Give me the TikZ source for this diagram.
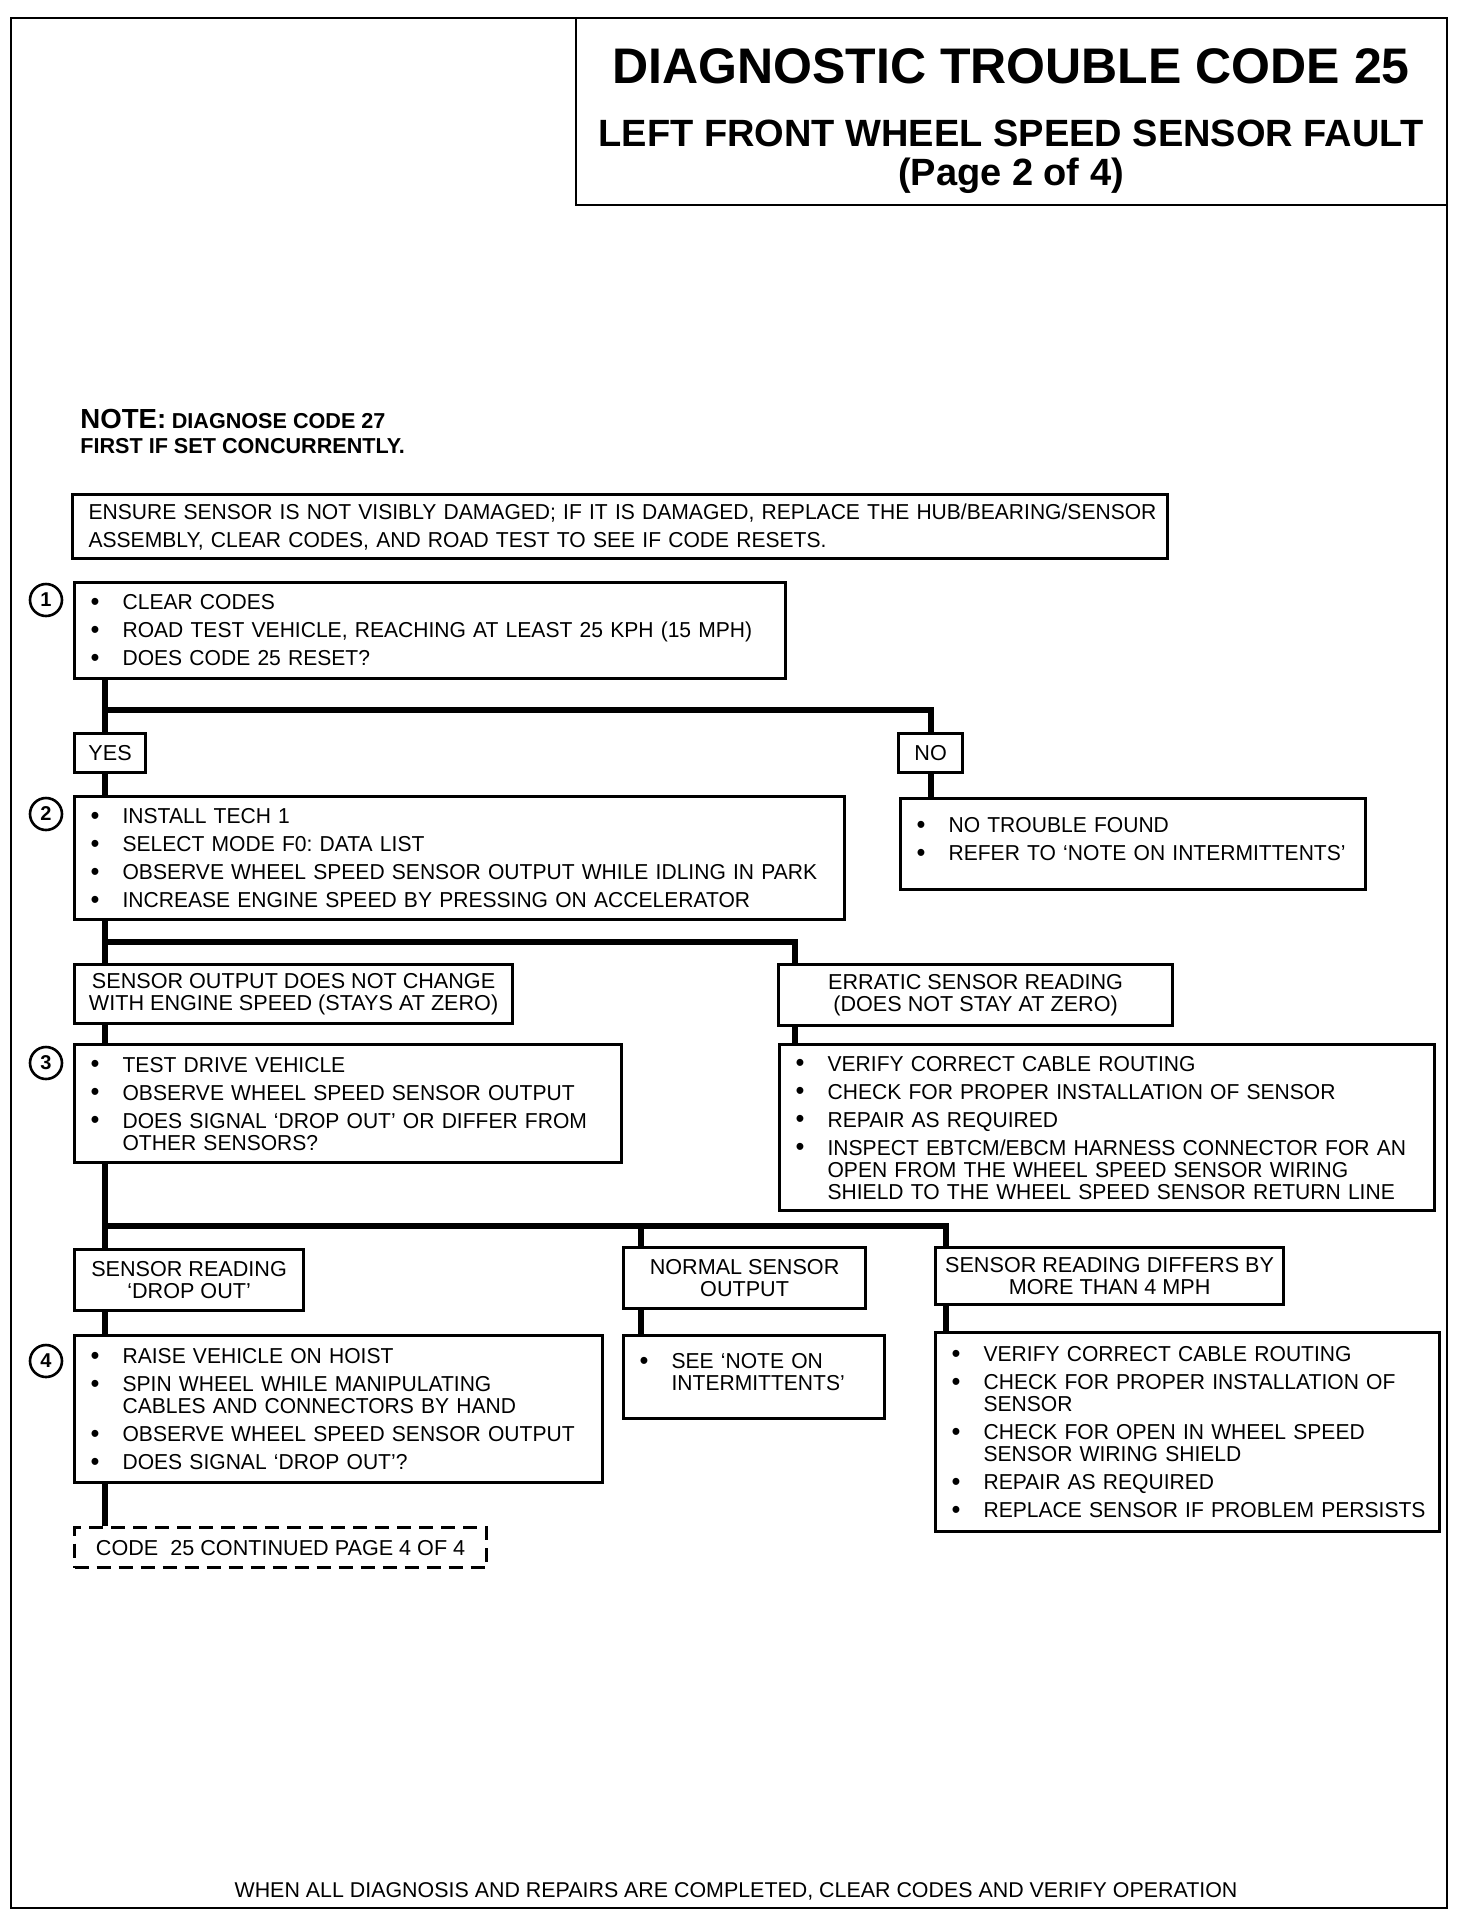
\documentclass[tikz,border=0pt]{standalone}
\usepackage{fontspec}
\setmainfont{Liberation Sans}
\newfontfamily\stepfont{Liberation Sans}[Ligatures=TeX,FakeStretch=0.975]
\usetikzlibrary{positioning}
\frenchspacing
\newcommand{\blt}{\makebox[17pt][l]{\hspace{1pt}\raisebox{-0.4pt}{\fontsize{13}{13}\selectfont\textbullet}}}
\newcommand{\fitm}[1]{\blt\mbox{#1}}
\newcommand{\itm}[1]{\par\addvspace{3pt}\noindent\blt\mbox{#1}}
\newcommand{\nxt}[1]{\par\noindent\hspace*{17pt}\mbox{#1}}
\newcommand{\lift}[1]{\par\kern#1}
\begin{document}
\begin{tikzpicture}[x=0.5pt,y=-0.5pt,
  frame/.style={line width=1.3pt},
  box/.style={draw,line width=1.6pt,anchor=north west,inner sep=0pt,align=center,font=\fontsize{10.8}{11}\selectfont},
  stepbox/.style={draw,line width=1.6pt,anchor=north west,inner xsep=7pt,inner ysep=0pt,font=\stepfont\fontsize{10.8}{11}\selectfont},
  num/.style={circle,draw,line width=1.3pt,minimum size=16pt,inner sep=0pt,font=\fontsize{10}{10}\selectfont\bfseries},
  conn/.style={line width=3pt}]
\useasboundingbox (0,0) rectangle (1472,1918);
% page frame and title block
\draw[frame] (11,18) rectangle (1447,1908);
\draw[frame] (576,18) -- (576,205) -- (1447,205);
\node[anchor=base,inner sep=0pt,font=\fontsize{25}{25}\selectfont\bfseries] (ttl1) at (1011,83) {DIAGNOSTIC TROUBLE CODE 25};
\node[anchor=base,inner sep=0pt,font=\fontsize{19}{19}\selectfont\bfseries] (ttl2) at (1011,146) {LEFT FRONT WHEEL SPEED SENSOR FAULT};
\node[anchor=base,inner sep=0pt,font=\fontsize{19}{19}\selectfont\bfseries] (ttl3) at (1011,185) {(Page 2 of 4)};
\node[anchor=base west,inner sep=0pt,font=\bfseries] (note1) at (80,428) {{\fontsize{13.8}{14}\selectfont NOTE:} {\fontsize{10.8}{11}\selectfont DIAGNOSE CODE 27}};
\node[anchor=base west,inner sep=0pt,font=\fontsize{10.8}{11}\selectfont\bfseries] (note2) at (80,453) {FIRST IF SET CONCURRENTLY.};

\node[stepbox,inner xsep=8pt,minimum width=547.5pt,minimum height=32pt,text width=531.5pt,font=\stepfont\fontsize{10.8}{14}\selectfont] (ensure) at (71,493)
  {\noindent\mbox{ENSURE SENSOR IS NOT VISIBLY DAMAGED; IF IT IS DAMAGED, REPLACE THE HUB/BEARING/SENSOR}\par
   \noindent\mbox{ASSEMBLY, CLEAR CODES, AND ROAD TEST TO SEE IF CODE RESETS.}};

% step 1
\node[num] (c1) at (46,600) {1};
\node[stepbox,minimum width=355.5pt,minimum height=48pt,text width=341.5pt] (s1) at (73,581)
  {\fitm{CLEAR CODES}\itm{ROAD TEST VEHICLE, REACHING AT LEAST 25 KPH (15 MPH)}\itm{DOES CODE 25 RESET?}};
\node[box,minimum width=35.5pt,minimum height=19.5pt] (yes) at (73,732) {YES};
\node[box,minimum width=32pt,minimum height=19.5pt] (no) at (897,732) {NO};

% step 2
\node[num] (c2) at (46,814) {2};
\node[stepbox,minimum width=385pt,minimum height=61.5pt,text width=371pt] (s2) at (73,795)
  {\fitm{INSTALL TECH 1}\itm{SELECT MODE F0: DATA LIST}\itm{OBSERVE WHEEL SPEED SENSOR OUTPUT WHILE IDLING IN PARK}\itm{INCREASE ENGINE SPEED BY PRESSING ON ACCELERATOR}};
\node[stepbox,minimum width=232.5pt,minimum height=45.5pt,text width=218.5pt] (ntf) at (899,797)
  {\fitm{NO TROUBLE FOUND}\itm{REFER TO `NOTE ON INTERMITTENTS'}\lift{5pt}};
\node[box,minimum width=219pt,minimum height=29.5pt] (nochg) at (73,963) {SENSOR OUTPUT DOES NOT CHANGE\\WITH ENGINE SPEED (STAYS AT ZERO)};
\node[box,minimum width=197pt,minimum height=30.5pt] (errat) at (777,963) {ERRATIC SENSOR READING\\(DOES NOT STAY AT ZERO)};

% step 3
\node[num] (c3) at (46,1063) {3};
\node[stepbox,minimum width=273.5pt,minimum height=59pt,text width=259.5pt] (s3) at (73,1043)
  {\fitm{TEST DRIVE VEHICLE}\itm{OBSERVE WHEEL SPEED SENSOR OUTPUT}\itm{DOES SIGNAL `DROP OUT' OR DIFFER FROM}\nxt{OTHER SENSORS?}};
\node[stepbox,minimum width=327.5pt,minimum height=83pt,text width=313.5pt] (fixerr) at (778,1043)
  {\fitm{VERIFY CORRECT CABLE ROUTING}\itm{CHECK FOR PROPER INSTALLATION OF SENSOR}\itm{REPAIR AS REQUIRED}\itm{INSPECT EBTCM/EBCM HARNESS CONNECTOR FOR AN}\nxt{OPEN FROM THE WHEEL SPEED SENSOR WIRING}\nxt{SHIELD TO THE WHEEL SPEED SENSOR RETURN LINE}};
\node[box,minimum width=114.5pt,minimum height=30.5pt] (dropout) at (73,1248) {SENSOR READING\\`DROP OUT'};
\node[box,minimum width=121pt,minimum height=30.5pt] (normal) at (622,1246) {NORMAL SENSOR\\OUTPUT};
\node[box,minimum width=174pt,minimum height=28.5pt] (differs) at (934,1246) {SENSOR READING DIFFERS BY\\MORE THAN 4 MPH};

% step 4
\node[num] (c4) at (46,1361) {4};
\node[stepbox,minimum width=264pt,minimum height=73.5pt,text width=250pt] (s4) at (73,1334)
  {\fitm{RAISE VEHICLE ON HOIST}\itm{SPIN WHEEL WHILE MANIPULATING}\nxt{CABLES AND CONNECTORS BY HAND}\itm{OBSERVE WHEEL SPEED SENSOR OUTPUT}\itm{DOES SIGNAL `DROP OUT'?}};
\node[stepbox,minimum width=130.5pt,minimum height=41.5pt,text width=116.5pt] (seenote) at (622,1334)
  {\fitm{SEE `NOTE ON}\nxt{INTERMITTENTS'}\lift{5pt}};
\node[stepbox,minimum width=252pt,minimum height=99.5pt,text width=238pt] (fixdiff) at (934,1331)
  {\fitm{VERIFY CORRECT CABLE ROUTING}\itm{CHECK FOR PROPER INSTALLATION OF}\nxt{SENSOR}\itm{CHECK FOR OPEN IN WHEEL SPEED}\nxt{SENSOR WIRING SHIELD}\itm{REPAIR AS REQUIRED}\itm{REPLACE SENSOR IF PROBLEM PERSISTS}};
\node[box,dashed,dash pattern=on 7pt off 4pt,minimum width=206pt,minimum height=20pt] (cont) at (73,1526) {CODE\ \ 25 CONTINUED PAGE 4 OF 4};

\node[anchor=base,inner sep=0pt,font=\fontsize{10.7}{11}\selectfont] (final) at (736,1897) {WHEN ALL DIAGNOSIS AND REPAIRS ARE COMPLETED, CLEAR CODES AND VERIFY OPERATION};

% connectors
\coordinate (bar1) at (105,710);
\coordinate (bar2) at (105,942);
\coordinate (bar3) at (105,1226);
\coordinate (errx) at (795,942);
\coordinate (normx) at (641,1226);
\coordinate (diffx) at (946,1226);
\draw[conn] (s1.south -| bar1) -- (yes.north -| bar1);
\draw[conn] (bar1) -| (no.north);
\draw[conn] (yes.south -| bar1) -- (s2.north -| bar1);
\draw[conn] (no.south) -- (no.south |- ntf.north);
\draw[conn] (s2.south -| bar2) -- (nochg.north -| bar2);
\draw[conn] (bar2) -- (errx) -- (errat.north -| errx);
\draw[conn] (errat.south -| errx) -- (fixerr.north -| errx);
\draw[conn] (nochg.south -| bar2) -- (s3.north -| bar2);
\draw[conn] (s3.south -| bar3) -- (dropout.north -| bar3);
\draw[conn] (bar3) -- (diffx) -- (differs.north -| diffx);
\draw[conn] (normx) -- (normal.north -| normx);
\draw[conn] (normal.south -| normx) -- (seenote.north -| normx);
\draw[conn] (differs.south -| diffx) -- (fixdiff.north -| diffx);
\draw[conn] (dropout.south -| bar3) -- (s4.north -| bar3);
\draw[conn] (s4.south -| bar3) -- (cont.north -| bar3);
\end{tikzpicture}
\end{document}
